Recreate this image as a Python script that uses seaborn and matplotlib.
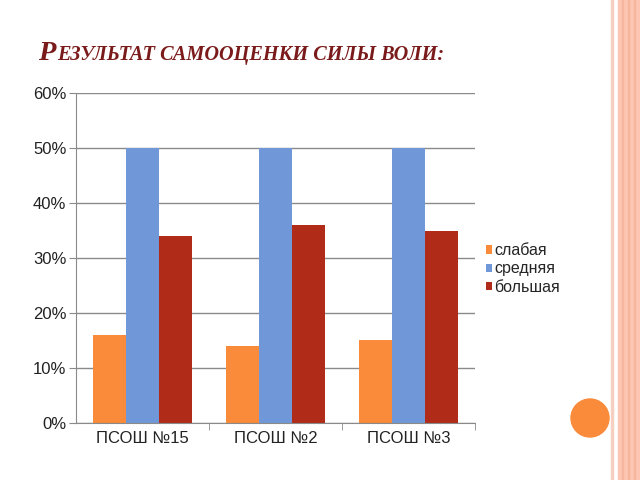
import matplotlib
matplotlib.use("Agg")
import matplotlib.pyplot as plt
import seaborn as sns
import pandas as pd
from matplotlib.patches import Circle, Rectangle
from matplotlib.ticker import PercentFormatter, FixedLocator

schools = ["ПСОШ №15", "ПСОШ №2", "ПСОШ №3"]
levels = ["слабая", "средняя", "большая"]
weak = [16, 14, 15]
medium = [50, 50, 50]
strong = [34, 36, 35]
colors = ["#f98b3a", "#7098d8", "#b02c19"]

rows = []
for i, s in enumerate(schools):
    for lvl, vals in zip(levels, [weak, medium, strong]):
        rows.append({"school": s, "level": lvl, "value": vals[i]})
df = pd.DataFrame(rows)

sns.set_style("white")
plt.rcParams["font.family"] = ["Liberation Sans", "DejaVu Sans"]

fig = plt.figure(figsize=(6.4, 4.8), dpi=100)
ax = fig.add_axes([0.119, 0.119, 0.623, 0.687])

sns.barplot(data=df, x="school", y="value", hue="level", palette=colors,
            order=schools, hue_order=levels, width=0.75, saturation=1,
            edgecolor="none", ax=ax)

ax.set_ylim(0, 60)
ax.set_xlim(-0.5, 2.5)
ax.set_yticks([0, 10, 20, 30, 40, 50, 60])
ax.yaxis.set_major_formatter(PercentFormatter(decimals=0))
ax.grid(axis="y", color="#8a8a8a", linewidth=1)
ax.set_axisbelow(True)
ax.set_xlabel("")
ax.set_ylabel("")
for sp in ["top", "right"]:
    ax.spines[sp].set_visible(False)
ax.spines["left"].set_color("#8a8a8a")
ax.spines["bottom"].set_color("#8a8a8a")
ax.tick_params(axis="y", direction="out", length=5, color="#8a8a8a",
               labelsize=12, labelcolor="#222222", left=True, pad=2)
ax.tick_params(axis="x", which="major", length=0, labelsize=12,
               labelcolor="#222222", pad=6)
ax.xaxis.set_minor_locator(FixedLocator([0.5, 1.5, 2.5]))
ax.tick_params(axis="x", which="minor", direction="out", length=5,
               color="#8a8a8a", bottom=True)

leg = ax.legend(loc="center left", bbox_to_anchor=(1.012, 0.467), frameon=False,
                fontsize=11.5, handlelength=0.4, handleheight=0.4,
                handletextpad=0.12, labelspacing=0.2, borderaxespad=0)

# slide decoration
fig.patches.append(Rectangle((611/640, 0), 2/640, 1, transform=fig.transFigure,
                             color="#f7cfc0", zorder=0))
fig.patches.append(Rectangle((618/640, 0), 22/640, 1, transform=fig.transFigure,
                             color="#fdc6b2", zorder=0))
for x in [622, 628, 634]:
    fig.patches.append(Rectangle((x/640, 0), 1/640, 1, transform=fig.transFigure,
                                 color="#f6b59d", zorder=0))
fig.patches.append(Circle((5.90, 4.8 - 4.18), 0.19, transform=fig.dpi_scale_trans,
                          color="#f98b3a", zorder=1))

ser = ["Liberation Serif", "DejaVu Serif"]
fig.text(38/640, 1 - 60/480, "Р", family=ser, fontsize=20.5, fontweight="bold",
         fontstyle="italic", color="#7a1a1a", va="baseline")
fig.text(57/640, 1 - 60/480, "ЕЗУЛЬТАТ САМООЦЕНКИ СИЛЫ ВОЛИ:", family=ser,
         fontsize=14.6, fontweight="bold", fontstyle="italic", color="#7a1a1a",
         va="baseline")

fig.savefig("out.png", dpi=100, facecolor="white")
